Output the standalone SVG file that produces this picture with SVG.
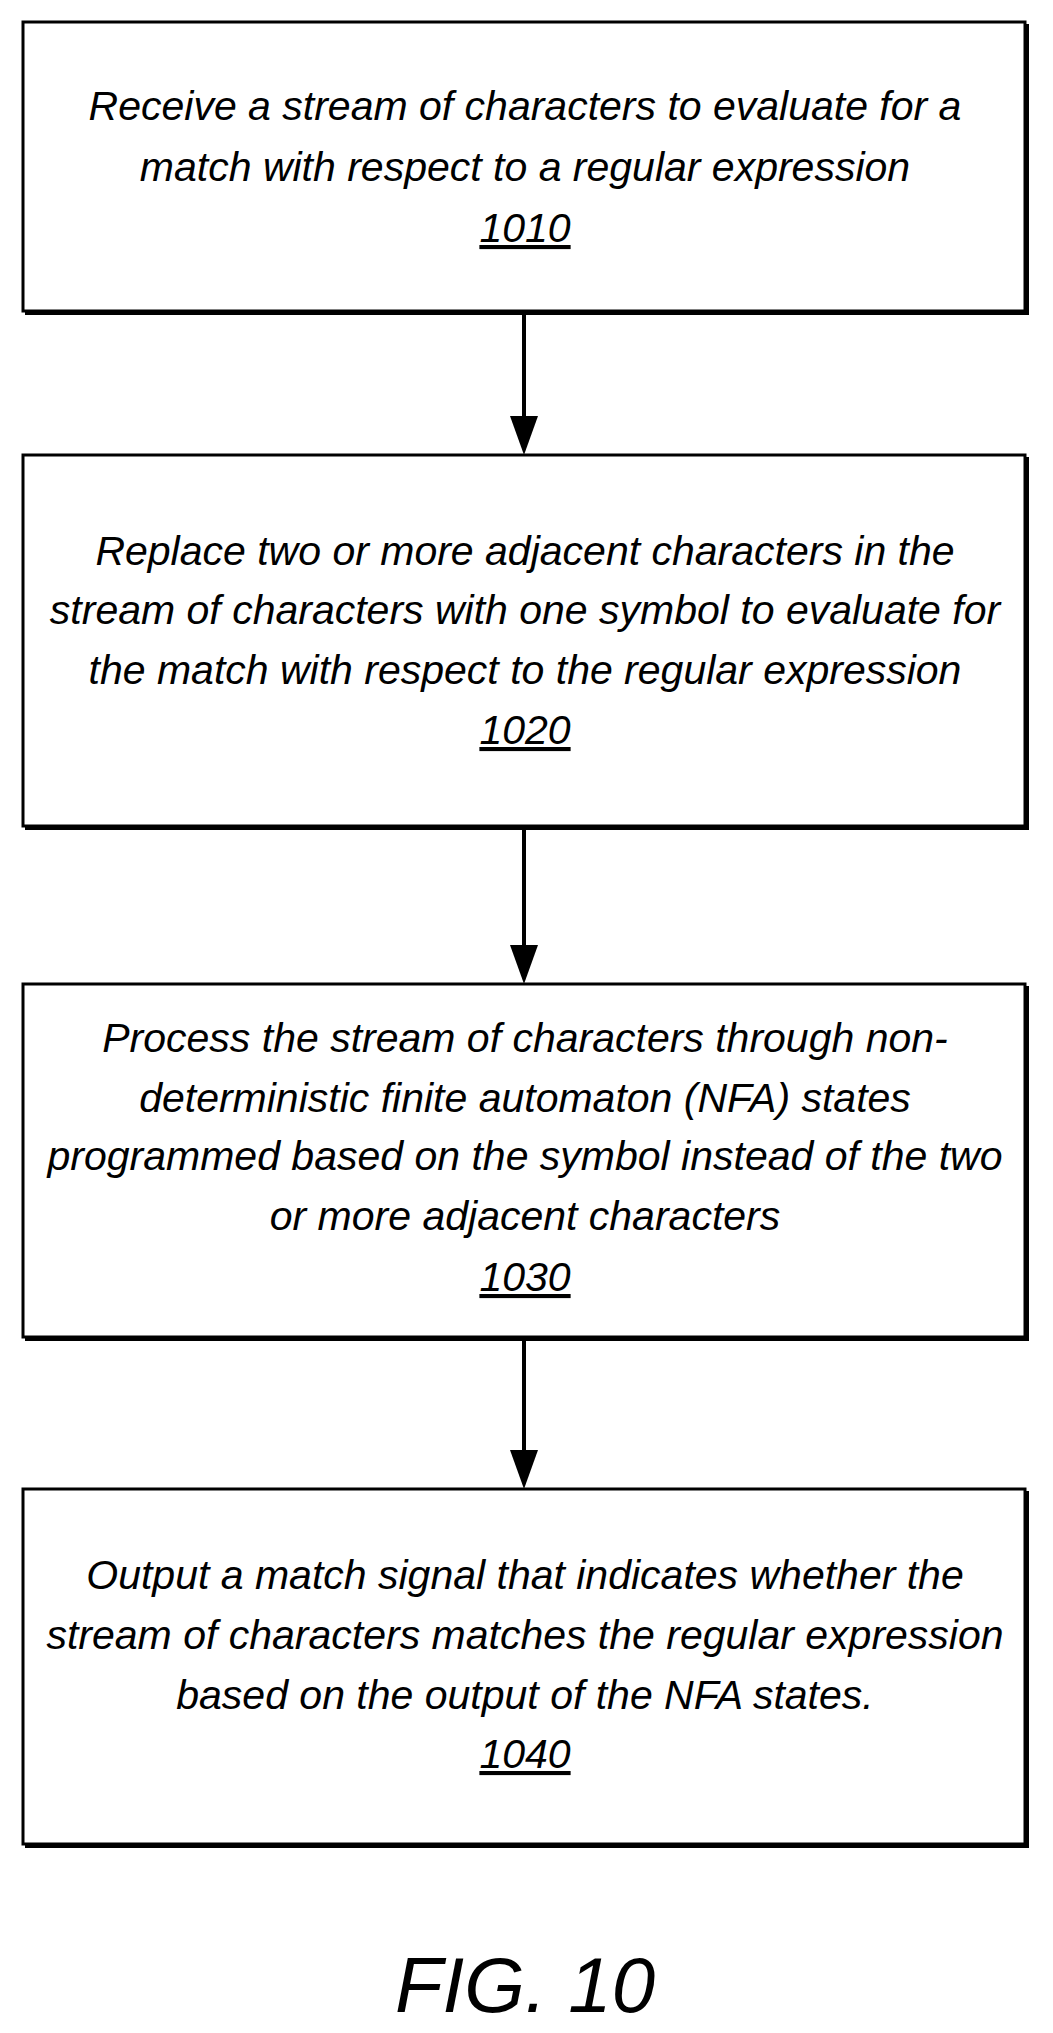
<svg xmlns="http://www.w3.org/2000/svg" width="1053" height="2033" viewBox="0 0 1053 2033">
<style>
.b{fill:#fff;stroke:#000;stroke-width:3}
.s{stroke:#000;stroke-width:4;fill:none}
text{font-family:"Liberation Sans",Arial,sans-serif;font-style:italic;font-size:41px;text-anchor:middle;fill:#000}
.c{stroke:#000;stroke-width:4}
</style>
<g id="n1010"><rect class="b" x="23" y="22" width="1002" height="289"/><path class="s" d="M1027,24V313H25"/>
<text x="525" y="120">Receive a stream of characters to evaluate for a</text>
<text x="525" y="181">match with respect to a regular expression</text>
<text x="525" y="242" text-decoration="underline">1010</text></g>
<g id="n1020"><rect class="b" x="23" y="455" width="1002" height="371"/><path class="s" d="M1027,457V828H25"/>
<text x="525" y="565">Replace two or more adjacent characters in the</text>
<text x="525" y="624">stream of characters with one symbol to evaluate for</text>
<text x="525" y="684">the match with respect to the regular expression</text>
<text x="525" y="744" text-decoration="underline">1020</text></g>
<g id="n1030"><rect class="b" x="23" y="984" width="1002" height="353"/><path class="s" d="M1027,986V1339H25"/>
<text x="525" y="1052">Process the stream of characters through non-</text>
<text x="525" y="1112">deterministic finite automaton (NFA) states</text>
<text x="525" y="1170">programmed based on the symbol instead of the two</text>
<text x="525" y="1230">or more adjacent characters</text>
<text x="525" y="1291" text-decoration="underline">1030</text></g>
<g id="n1040"><rect class="b" x="23" y="1489" width="1002" height="355"/><path class="s" d="M1027,1491V1846H25"/>
<text x="525" y="1589">Output a match signal that indicates whether the</text>
<text x="525" y="1649">stream of characters matches the regular expression</text>
<text x="525" y="1709">based on the output of the NFA states.</text>
<text x="525" y="1768" text-decoration="underline">1040</text></g>
<g id="connectors">
<path d="M524,313V420" class="c"/><path d="M510,416L524,455L538,416z"/>
<path d="M524,828V949" class="c"/><path d="M510,945L524,984L538,945z"/>
<path d="M524,1339V1454" class="c"/><path d="M510,1450L524,1489L538,1450z"/>
</g>
<text x="525" y="2012" style="font-size:78px;font-style:italic">FIG. 10</text>
</svg>
